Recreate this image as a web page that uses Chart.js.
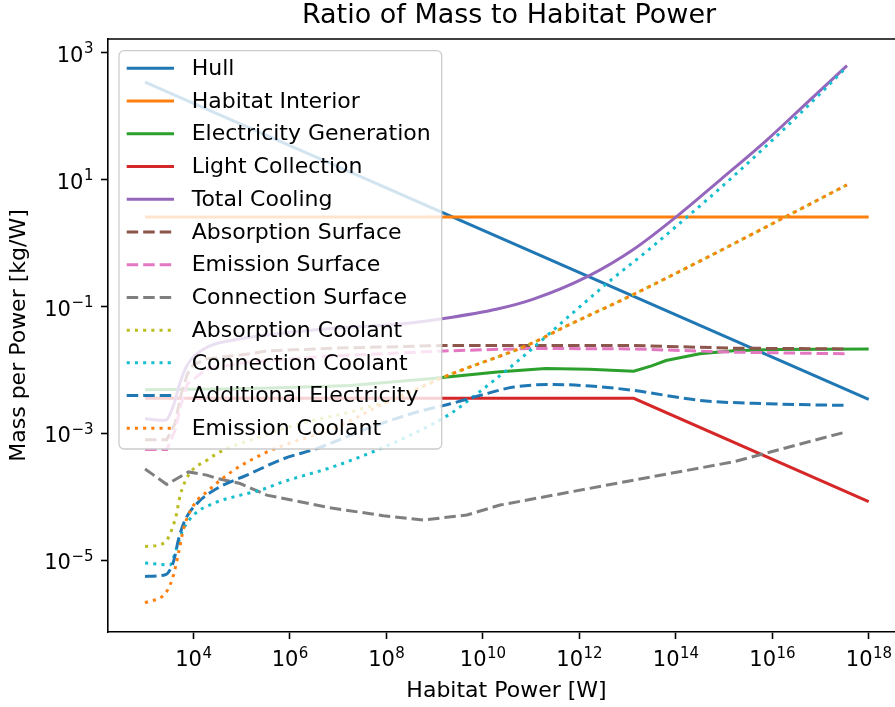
<!DOCTYPE html>
<html>
<head>
<meta charset="utf-8">
<script src="https://cdn.jsdelivr.net/npm/chart.js@4.4.1/dist/chart.umd.min.js"></script>
<style>
  html, body { margin: 0; padding: 0; background: #fff; overflow: hidden; }
  #chart { display: block; }
</style>
</head>
<body>
<canvas id="chart" width="905" height="707"></canvas>
<script>
// [habitat power W, mass per power kg/W]
const hull = [[1e3, 343], [1e18, 3.44e-3]];
const habitatInterior = [[1e3, 2.57], [1e18, 2.57]];
const electricityGeneration = [
    [1e3, 4.89e-3], [1e5, 5.07e-3], [3.16e6, 5.45e-3], [1.78e7, 5.71e-3], [7.94e8, 7.28e-3],
    [2.0e10, 9.27e-3], [2.0e11, 1.06e-2], [1.58e12, 1.03e-2], [1.35e13, 9.55e-3], [3.16e13, 1.16e-2],
    [6.31e13, 1.41e-2], [3.16e14, 1.80e-2], [1.58e15, 2.02e-2], [1e16, 2.11e-2], [1e18, 2.15e-2]
];
const lightCollection = [[1e3, 3.58e-3], [1.35e13, 3.58e-3], [1e18, 8.43e-5]];
const totalCooling = [
    [1e3, 1.71e-3], [2.63e3, 1.61e-3], [3.89e3, 2.77e-3], [5.37e3, 6.46e-3], [7.41e3, 1.18e-2],
    [1.66e4, 2.15e-2], [6.92e4, 2.98e-2], [3.39e5, 3.57e-2], [7.94e6, 4.55e-2], [1.95e8, 5.31e-2],
    [1.55e9, 6.48e-2], [2.0e10, 9.14e-2], [1.12e11, 0.131], [1.58e12, 0.305], [1.35e13, 0.80],
    [1.07e14, 2.66], [8.51e14, 10], [7.94e15, 42.7], [5.37e16, 165], [3.55e17, 625]
];
const absorptionSurface = [
    [1e3, 8.0e-4], [2.82e3, 8.0e-4], [4.17e3, 1.43e-3], [5.62e3, 4.22e-3], [7.59e3, 8.71e-3],
    [1e4, 1.21e-2], [1.91e4, 1.50e-2], [1.51e5, 1.80e-2], [3.39e5, 2.0e-2], [7.94e6, 2.21e-2],
    [1.55e9, 2.43e-2], [1.35e13, 2.43e-2], [1.58e15, 2.21e-2], [3.55e17, 2.15e-2]
];
const emissionSurface = [
    [1e3, 5.58e-4], [2.82e3, 5.58e-4], [4.17e3, 1.11e-3], [5.62e3, 2.94e-3], [7.59e3, 6.07e-3],
    [1.91e4, 1.04e-2], [1.51e5, 1.35e-2], [7.94e6, 1.67e-2], [1.55e9, 2.0e-2], [1e11, 2.19e-2],
    [1.35e13, 2.15e-2], [1.58e15, 1.91e-2], [3.55e17, 1.80e-2]
];
const connectionSurface = [
    [1e3, 2.76e-4], [2.82e3, 1.58e-4], [7.94e3, 2.48e-4], [1.91e4, 2.21e-4], [3.09e4, 1.96e-4],
    [9.33e4, 1.63e-4], [3.31e5, 1.07e-4], [7.94e6, 6.62e-5], [8.71e7, 5.08e-5], [5.89e8, 4.34e-5],
    [4.68e9, 5.2e-5], [2.29e10, 7.46e-5], [1.35e13, 1.84e-4], [1.58e15, 3.58e-4], [3.55e17, 1.07e-3]
];
const absorptionCoolant = [
    [1e3, 1.66e-5], [2.45e3, 1.87e-5], [4.27e3, 4.61e-5], [5.37e3, 1.07e-4], [7.94e3, 2.21e-4],
    [1.91e4, 3.79e-4], [4.17e4, 5.45e-4], [1.51e5, 7.82e-4], [1.62e6, 1.43e-3], [1.78e7, 2.18e-3],
    [1.95e8, 3.79e-3], [1.55e9, 7.74e-3], [9.77e10, 2.58e-2], [4.79e11, 4.71e-2], [1.17e13, 0.148],
    [3.24e14, 0.524], [1.74e16, 2.51], [3.55e17, 8.28]
];
const connectionCoolant = [
    [1e3, 9.08e-6], [3.31e3, 8.53e-6], [4.27e3, 1.38e-5], [5.89e3, 2.85e-5], [1.02e4, 5.2e-5],
    [2.63e4, 7.94e-5], [9.55e4, 1.07e-4], [2.45e5, 1.28e-4], [7.41e5, 1.74e-4], [7.94e6, 2.99e-4],
    [6.31e7, 5.45e-4], [4.37e8, 1.06e-3], [2.14e9, 2.05e-3], [7.59e9, 4.23e-3], [1.55e10, 6.46e-3],
    [6.03e10, 1.50e-2], [7.59e11, 8.11e-2], [4.79e12, 0.270], [2.57e13, 0.752], [1.26e14, 2.10],
    [1.58e15, 11.3], [3.89e16, 112], [3.55e17, 600]
];
const additionalElectricity = [
    [1e3, 5.61e-6], [2.63e3, 5.94e-6], [3.89e3, 9.64e-6], [5.01e3, 2.24e-5], [6.76e3, 4.34e-5],
    [1.20e4, 7.93e-5], [3.09e4, 1.36e-4], [1.29e5, 2.21e-4], [7.41e5, 4.0e-4], [3.63e6, 5.79e-4],
    [3.98e7, 1.19e-3], [4.37e8, 2.18e-3], [2.14e9, 2.94e-3], [8.91e9, 3.98e-3], [4.37e10, 5.39e-3],
    [2.95e11, 5.92e-3], [1.70e12, 5.59e-3], [1.35e13, 4.77e-3], [3.24e14, 3.32e-3], [7.94e15, 2.94e-3],
    [3.55e17, 2.77e-3]
];
const emissionCoolant = [
    [1e3, 2.14e-6], [2.82e3, 3.26e-6], [3.89e3, 5.94e-6], [5.01e3, 1.38e-5], [6.31e3, 3.21e-5],
    [1.02e4, 7.46e-5], [1.91e4, 1.21e-4], [6.92e4, 2.64e-4], [2.88e5, 4.83e-4], [7.41e5, 6.53e-4],
    [7.94e6, 1.19e-3], [8.71e7, 2.94e-3], [4.37e8, 5.07e-3], [1.55e9, 7.74e-3], [9.77e10, 2.58e-2],
    [4.79e11, 4.71e-2], [1.17e13, 0.148], [3.24e14, 0.524], [1.74e16, 2.51], [3.55e17, 8.28]
];

const xTicks = [1e4, 1e6, 1e8, 1e10, 1e12, 1e14, 1e16, 1e18];
const yTicks = [1e-5, 1e-3, 1e-1, 1e1, 1e3];

const FONT = "'DejaVu Sans', 'Liberation Sans', sans-serif";
const SOLID = [];
const DASHED = [11.5, 5];
const DOTTED = [3.1, 5.1];

// label, data, colour, dash, smooth - same order as the legend
const series = [
    ['Hull', hull, '#1f77b4', SOLID, false],
    ['Habitat Interior', habitatInterior, '#ff7f0e', SOLID, false],
    ['Electricity Generation', electricityGeneration, '#2ca02c', SOLID, false],
    ['Light Collection', lightCollection, '#d62728', SOLID, false],
    ['Total Cooling', totalCooling, '#9467bd', SOLID, true],
    ['Absorption Surface', absorptionSurface, '#8c564b', DASHED, false],
    ['Emission Surface', emissionSurface, '#e377c2', DASHED, false],
    ['Connection Surface', connectionSurface, '#7f7f7f', DASHED, false],
    ['Absorption Coolant', absorptionCoolant, '#bcbd22', DOTTED, true],
    ['Connection Coolant', connectionCoolant, '#17becf', DOTTED, true],
    ['Additional Electricity', additionalElectricity, '#1f77b4', DASHED, true],
    ['Emission Coolant', emissionCoolant, '#ff7f0e', DOTTED, true]
];

// "10" with a raised exponent, like matplotlib's mathtext tick labels
function drawPower(ctx, v, x, baseline, align) {
    const exp = String(Math.round(Math.log10(v))).replace('-', '\u2212');
    ctx.font = '21px ' + FONT;
    const wb = ctx.measureText('10').width;
    ctx.font = '15px ' + FONT;
    const we = ctx.measureText(exp).width;
    const left = align === 'center' ? x - (wb + we) / 2 : x - (wb + we);
    ctx.textAlign = 'left';
    ctx.textBaseline = 'alphabetic';
    ctx.font = '21px ' + FONT;
    ctx.fillText('10', left, baseline);
    ctx.font = '15px ' + FONT;
    ctx.fillText(exp, left + wb + 0.5, baseline - 8.5);
}

// title, top spine and tick labels
const frame = {
    id: 'frame',
    afterDraw(chart) {
        const ctx = chart.ctx;
        const a = chart.chartArea;
        const sx = chart.scales.x, sy = chart.scales.y;
        ctx.save();
        ctx.strokeStyle = '#000';
        ctx.lineWidth = 1.6;
        ctx.beginPath();
        ctx.moveTo(a.left - 0.8, a.top);
        ctx.lineTo(a.right, a.top);
        ctx.stroke();
        ctx.fillStyle = '#000';
        xTicks.forEach(v => drawPower(ctx, v, sx.getPixelForValue(v), a.bottom + 34, 'center'));
        yTicks.forEach(v => drawPower(ctx, v, a.left - 15, sy.getPixelForValue(v) + 9, 'right'));
        ctx.font = '27px ' + FONT;
        ctx.textAlign = 'center';
        ctx.textBaseline = 'middle';
        ctx.fillText('Ratio of Mass to Habitat Power', 509, 16);
        ctx.restore();
    }
};

// matplotlib-style legend box inside the axes
const legendBox = {
    id: 'legendBox',
    afterDatasetsDraw(chart) {
        const ctx = chart.ctx;
        const x = 119, y = 50.7, w = 322.7, h = 398.3, r = 5;
        ctx.save();
        ctx.beginPath();
        ctx.roundRect(x, y, w, h, r);
        ctx.fillStyle = 'rgba(255,255,255,0.8)';
        ctx.fill();
        ctx.strokeStyle = '#cccccc';
        ctx.lineWidth = 1.3;
        ctx.stroke();
        ctx.font = '22px ' + FONT;
        ctx.textBaseline = 'middle';
        ctx.textAlign = 'left';
        chart.data.datasets.forEach((ds, i) => {
            const ly = 68.3 + i * 32.73;
            ctx.beginPath();
            ctx.setLineDash(ds.borderDash);
            ctx.lineCap = 'butt';
            ctx.lineWidth = 3;
            ctx.strokeStyle = ds.borderColor;
            ctx.moveTo(126.7, ly);
            ctx.lineTo(174, ly);
            ctx.stroke();
            ctx.setLineDash([]);
            ctx.fillStyle = '#000';
            ctx.fillText(ds.label, 191.7, ly + 1);
        });
        ctx.restore();
    }
};

const ctx = document.getElementById('chart').getContext('2d');
const chart = new Chart(ctx, {
    type: 'line',
    data: {
        datasets: series.map((s, i) => ({
            label: s[0],
            data: s[1].map(p => ({ x: p[0], y: p[1] })),
            borderColor: s[2],
            backgroundColor: s[2],
            borderDash: s[3],
            borderWidth: 3,
            borderCapStyle: 'butt',
            fill: false,
            pointRadius: 0,
            cubicInterpolationMode: s[4] ? 'monotone' : 'default',
            tension: 0,
            order: series.length - i
        }))
    },
    options: {
        responsive: false,
        animation: false,
        devicePixelRatio: 1,
        layout: { padding: { top: 39, right: 0, bottom: 0, left: 0 } },
        plugins: {
            legend: { display: false },
            title: { display: false },
            tooltip: { enabled: false }
        },
        scales: {
            x: {
                type: 'logarithmic',
                position: 'bottom',
                min: 170.6,
                max: 5.66e18,
                afterBuildTicks: s => { s.ticks = xTicks.map(v => ({ value: v })); },
                afterFit: s => { s.height = 75; },
                ticks: { display: false, autoSkip: false, maxRotation: 0 },
                grid: { display: true, drawOnChartArea: false, drawTicks: true, tickLength: 7, tickWidth: 1.6, tickColor: '#000' },
                border: { display: true, color: '#000', width: 1.6 },
                title: { display: true, text: 'Habitat Power [W]', color: '#000', font: { family: FONT, size: 22 }, padding: { top: 0, bottom: 3 } }
            },
            y: {
                type: 'logarithmic',
                position: 'left',
                min: 7.46e-7,
                max: 1641,
                afterBuildTicks: s => { s.ticks = yTicks.map(v => ({ value: v })); },
                afterFit: s => { s.width = 108; },
                ticks: { display: false, autoSkip: false },
                grid: { display: true, drawOnChartArea: false, drawTicks: true, tickLength: 7, tickWidth: 1.6, tickColor: '#000' },
                border: { display: true, color: '#000', width: 1.6 },
                title: { display: true, text: 'Mass per Power [kg/W]', color: '#000', font: { family: FONT, size: 22 }, padding: { top: 6, bottom: 0 } }
            }
        }
    },
    plugins: [legendBox, frame]
});
</script>
</body>
</html>
